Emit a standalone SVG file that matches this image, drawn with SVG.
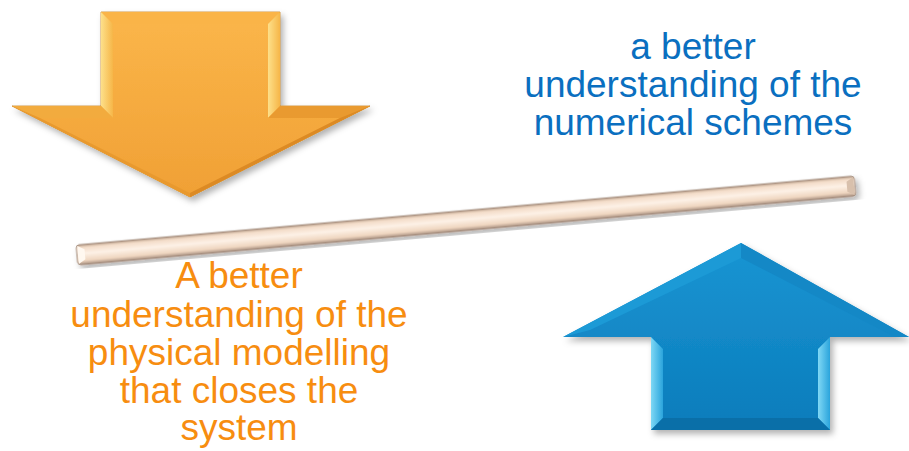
<svg xmlns="http://www.w3.org/2000/svg" width="909" height="451" viewBox="0 0 909 451">
<defs>
<linearGradient id="og" x1="0" y1="0" x2="0" y2="1">
<stop offset="0" stop-color="#fbb64a"/>
<stop offset="1" stop-color="#f0a035"/>
</linearGradient>
<linearGradient id="bg" x1="0" y1="0" x2="0" y2="1">
<stop offset="0" stop-color="#1a95d3"/>
<stop offset="1" stop-color="#0a7cbb"/>
</linearGradient>
<linearGradient id="rod" x1="0" y1="0" x2="0" y2="1">
<stop offset="0" stop-color="#b89e8a"/>
<stop offset="0.15" stop-color="#f3dcc8"/>
<stop offset="0.45" stop-color="#fdf1e6"/>
<stop offset="0.8" stop-color="#efd6c0"/>
<stop offset="1" stop-color="#a89080"/>
</linearGradient>
<linearGradient id="ostrip" x1="0" y1="0" x2="1" y2="0">
<stop offset="0" stop-color="#fde08a"/>
<stop offset="1" stop-color="#f6b648"/>
</linearGradient>
<linearGradient id="bstrip" x1="0" y1="0" x2="1" y2="0">
<stop offset="0" stop-color="#7fd8f5"/>
<stop offset="1" stop-color="#2aa4dc"/>
</linearGradient>
<filter id="sh" x="-10%" y="-10%" width="130%" height="130%">
<feDropShadow dx="3" dy="4" stdDeviation="3" flood-color="#000" flood-opacity="0.3"/>
</filter>
</defs>
<style>
.t{font-family:"Liberation Sans",Arial,sans-serif;font-size:37px;text-anchor:middle}
.blue{fill:#0a6fc0}
.orange{fill:#f78d10}
</style>
<g id="orange-arrow">
<polygon points="101,12 280,12 280,106 370,106 190,197 12,106 101,106" fill="url(#og)" stroke="#c8862a" stroke-width="0.8" filter="url(#sh)"/>
<polygon points="101,12 280,12 268,24 113,24" fill="#fab448"/>
<polygon points="101,12 113,24 113,118 101,106" fill="url(#ostrip)"/>
<polygon points="280,12 268,24 268,118 280,106" fill="url(#ostrip)"/>
<polygon points="12,106 101,106 113,118 40,118 190,193 190,197" fill="#f2ab3e"/>
<polygon points="370,106 280,106 268,118 340,118 190,193 190,197" fill="#e99a30"/>
<polygon points="40,118 190,193 190,197 12,106" fill="#e9992e"/>
<polygon points="340,118 190,193 190,197 370,106" fill="#dc8a24"/>
</g>
<g id="rod-bar">
<g transform="rotate(-5.07 77 255)">
<rect x="77" y="245" width="781" height="20" rx="3" fill="url(#rod)" stroke="#a08878" stroke-width="1" filter="url(#sh)"/>
<polygon points="78,246 85,250 85,260 78,264" fill="#fff8f0"/>
<polygon points="857,246 850,250 850,260 857,264" fill="#d8c0ac"/>
</g>
</g>
<g id="blue-arrow">
<polygon points="741,243 909,337 830,337 830,430 651,430 651,337 563,337" fill="url(#bg)" filter="url(#sh)"/>
<polygon points="741,243 909,337 895,337 741,258" fill="#1488c6"/>
<polygon points="741,243 563,337 590,330 741,258" fill="#1c9ad6"/>
<polygon points="651,337 663,349 663,418 651,430" fill="url(#bstrip)"/>
<polygon points="830,337 818,349 818,418 830,430" fill="url(#bstrip)"/>
<polygon points="651,430 663,418 818,418 830,430" fill="#0a6fa8"/>
</g>
<g id="blue-text">
<text class="t blue" x="693" y="59">a better</text>
<text class="t blue" x="693" y="97">understanding of the</text>
<text class="t blue" x="693" y="135">numerical schemes</text>
</g>
<g id="orange-text">
<text class="t orange" x="239" y="288">A better</text>
<text class="t orange" x="239" y="327">understanding of the</text>
<text class="t orange" x="239" y="365">physical modelling</text>
<text class="t orange" x="239" y="403">that closes the</text>
<text class="t orange" x="239" y="440">system</text>
</g>
<g id="connectors"/>
</svg>
